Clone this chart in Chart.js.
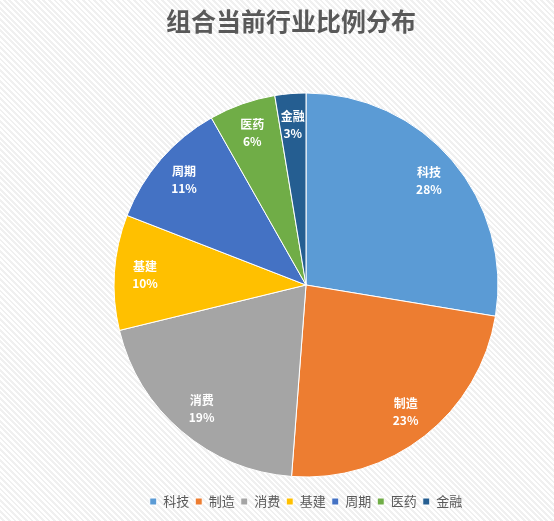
<!DOCTYPE html>
<html>
<head>
<meta charset="utf-8">
<script src="https://cdn.jsdelivr.net/npm/chart.js@4"></script>
<style>
    html, body { margin: 0; padding: 0; }
    body {
        width: 554px; height: 521px;
        background: repeating-linear-gradient(45deg, #ffffff 0px, #ffffff 2px, #f0f0f0 2px, #f0f0f0 4px);
    }
    #wrap { position: relative; width: 554px; height: 521px; }
</style>
</head>
<body>
<div id="wrap"><canvas id="pieChart" width="554" height="521"></canvas></div>
<script>
const titre = '组合当前行业比例分布';
const secteurs = ['科技', '制造', '消费', '基建', '周期', '医药', '金融'];
// taille des parts
const parts = [27.6, 23.6, 20.0, 9.7, 10.9, 5.6, 2.6];
// pourcentages affichés dans les étiquettes
const etiquettes = ['28%', '23%', '19%', '10%', '11%', '6%', '3%'];
const couleurs = ['#5B9BD5', '#ED7D31', '#A5A5A5', '#FFC000', '#4472C4', '#70AD47', '#255E91'];

const police = "'Noto Sans CJK SC', 'Microsoft YaHei', sans-serif";

// Titre dessiné à la main pour garder le décalage de l'original
const pluginTitre = {
    id: 'pluginTitre',
    afterDraw(chart) {
        const ctx = chart.ctx;
        ctx.save();
        ctx.font = 'bold 25px ' + police;
        ctx.fillStyle = '#595959';
        ctx.textAlign = 'center';
        ctx.textBaseline = 'middle';
        ctx.fillText(titre, 291, 21);
        ctx.restore();
    }
};

// Étiquettes blanches dans chaque part
const pluginEtiquettes = {
    id: 'pluginEtiquettes',
    afterDatasetsDraw(chart) {
        const ctx = chart.ctx;
        const meta = chart.getDatasetMeta(0);
        ctx.save();
        ctx.fillStyle = '#ffffff';
        ctx.textAlign = 'center';
        ctx.textBaseline = 'middle';
        ctx.font = 'bold 12px ' + police;
        meta.data.forEach((arc, i) => {
            const p = arc.getProps(['x', 'y', 'startAngle', 'endAngle', 'outerRadius'], true);
            const milieu = (p.startAngle + p.endAngle) / 2;
            const r = p.outerRadius * 0.84;
            const x = p.x + Math.cos(milieu) * r;
            const y = p.y + Math.sin(milieu) * r;
            ctx.fillText(secteurs[i], x, y - 8);
            ctx.fillText(etiquettes[i], x, y + 9);
        });
        ctx.restore();
    }
};

new Chart(document.getElementById('pieChart'), {
    type: 'pie',
    data: {
        labels: secteurs,
        datasets: [{
            data: parts,
            backgroundColor: couleurs,
            borderColor: '#ffffff',
            borderWidth: 1
        }]
    },
    options: {
        responsive: false,
        animation: false,
        radius: 192,
        layout: { padding: { top: 81, bottom: 3, left: 58, right: 0 } },
        plugins: {
            title: { display: false },
            tooltip: { enabled: false },
            legend: {
                position: 'bottom',
                labels: {
                    boxWidth: 7,
                    boxHeight: 7,
                    padding: 6,
                    color: '#595959',
                    font: { size: 13, family: police }
                }
            }
        }
    },
    plugins: [pluginTitre, pluginEtiquettes]
});
</script>
</body>
</html>
